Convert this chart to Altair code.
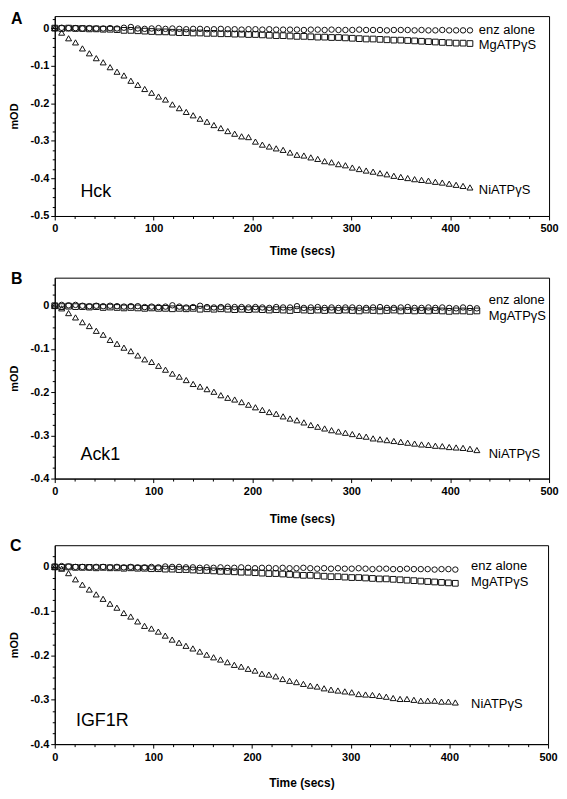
import altair as alt
import pandas as pd

TIMES = [0, 7, 14, 21, 28, 35, 42, 49, 56, 63,
         70, 77, 84, 91, 98, 105, 112, 119, 126, 133,
         140, 147, 154, 161, 168, 175, 182, 189, 196, 203,
         210, 217, 224, 231, 238, 245, 252, 259, 266, 273,
         280, 287, 294, 301, 308, 315, 322, 329, 336, 343,
         350, 357, 364, 371, 378, 385, 392, 399, 406, 413,
         420, 427]

SERIES = ["enz alone", "MgATPγS", "NiATPγS"]

# Panel A (Hck)
A_ENZ = [0.000, 0.001, 0.000, 0.000, -0.001, 0.000, -0.001, -0.001, 0.000, -0.001,
         0.001, 0.003, -0.001, -0.002, -0.001, 0.000, -0.002, -0.001, -0.002, -0.003,
         -0.002, -0.002, -0.003, -0.003, -0.002, -0.003, -0.003, -0.004, -0.003, -0.003,
         -0.004, -0.003, -0.004, -0.004, -0.004, -0.004, -0.005, -0.004, -0.004, -0.005,
         -0.004, -0.005, -0.005, -0.005, -0.004, -0.005, -0.005, -0.005, -0.006, -0.005,
         -0.005, -0.005, -0.006, -0.005, -0.006, -0.006, -0.005, -0.006, -0.006, -0.006,
         -0.006]
A_MG = [0.000, -0.001, 0.000, -0.001, -0.001, -0.002, -0.002, -0.003, -0.003, -0.004,
        -0.006, -0.006, -0.007, -0.008, -0.009, -0.010, -0.010, -0.011, -0.012, -0.012,
        -0.013, -0.013, -0.014, -0.014, -0.015, -0.015, -0.016, -0.016, -0.017, -0.017,
        -0.018, -0.019, -0.020, -0.020, -0.021, -0.022, -0.022, -0.023, -0.024, -0.024,
        -0.025, -0.025, -0.026, -0.027, -0.028, -0.029, -0.029, -0.030, -0.031, -0.032,
        -0.032, -0.033, -0.034, -0.035, -0.036, -0.037, -0.038, -0.039, -0.040, -0.040,
        -0.041]
A_NI = [0.000, -0.012, -0.027, -0.038, -0.054, -0.067, -0.080, -0.091, -0.104, -0.116,
        -0.126, -0.140, -0.151, -0.162, -0.172, -0.182, -0.190, -0.203, -0.213, -0.223,
        -0.232, -0.241, -0.249, -0.258, -0.266, -0.274, -0.281, -0.288, -0.290, -0.302,
        -0.310, -0.315, -0.320, -0.324, -0.331, -0.337, -0.339, -0.344, -0.348, -0.354,
        -0.357, -0.362, -0.365, -0.371, -0.375, -0.379, -0.382, -0.386, -0.389, -0.393,
        -0.396, -0.399, -0.402, -0.404, -0.406, -0.409, -0.411, -0.414, -0.417, -0.420,
        -0.424]

# Panel B (Ack1)
B_ENZ = [0.000, 0.002, 0.001, 0.002, 0.000, -0.001, 0.000, -0.001, 0.000, -0.001,
         -0.002, -0.001, -0.001, -0.003, -0.002, -0.003, -0.002, 0.001, -0.002, -0.004,
         -0.003, 0.000, -0.003, -0.004, -0.003, -0.002, -0.003, -0.003, -0.004, -0.003,
         -0.004, -0.005, -0.003, -0.004, -0.004, -0.001, -0.005, -0.004, -0.003, -0.005,
         -0.004, -0.005, -0.004, -0.004, -0.005, -0.005, -0.004, -0.003, -0.005, -0.005,
         -0.004, -0.003, -0.005, -0.005, -0.004, -0.005, -0.004, -0.005, -0.006, -0.004,
         -0.005, -0.006]
B_MG = [0.000, -0.002, -0.001, -0.002, -0.002, -0.003, -0.002, -0.004, -0.003, -0.004,
        -0.005, -0.004, -0.005, -0.006, -0.005, -0.006, -0.006, -0.007, -0.006, -0.007,
        -0.006, -0.008, -0.007, -0.008, -0.007, -0.008, -0.009, -0.008, -0.009, -0.008,
        -0.009, -0.010, -0.009, -0.010, -0.011, -0.009, -0.010, -0.011, -0.010, -0.011,
        -0.010, -0.011, -0.010, -0.011, -0.012, -0.010, -0.011, -0.012, -0.011, -0.010,
        -0.012, -0.011, -0.012, -0.011, -0.012, -0.011, -0.012, -0.013, -0.012, -0.012,
        -0.013, -0.012]
B_NI = [0.000, -0.006, -0.017, -0.027, -0.038, -0.047, -0.058, -0.067, -0.079, -0.088,
        -0.097, -0.105, -0.115, -0.124, -0.130, -0.139, -0.148, -0.157, -0.164, -0.172,
        -0.181, -0.187, -0.193, -0.199, -0.207, -0.213, -0.217, -0.223, -0.229, -0.235,
        -0.241, -0.246, -0.250, -0.256, -0.261, -0.265, -0.270, -0.276, -0.280, -0.284,
        -0.288, -0.291, -0.294, -0.297, -0.301, -0.303, -0.307, -0.309, -0.311, -0.313,
        -0.315, -0.317, -0.319, -0.321, -0.322, -0.324, -0.325, -0.327, -0.328, -0.329,
        -0.331, -0.334]

# Panel C (IGF1R)
C_ENZ = [0.001, 0.002, 0.001, 0.000, 0.000, -0.001, 0.000, 0.000, -0.001, 0.000,
         -0.001, 0.000, -0.001, -0.001, 0.000, -0.001, 0.001, 0.000, 0.000, -0.001,
         -0.001, -0.002, -0.001, -0.002, -0.001, -0.002, -0.002, -0.001, -0.002, -0.003,
         -0.002, -0.002, -0.003, -0.002, -0.003, -0.003, -0.002, -0.003, -0.004, -0.003,
         -0.004, -0.003, -0.004, -0.004, -0.003, -0.004, -0.005, -0.004, -0.004, -0.005,
         -0.005, -0.004, -0.005, -0.005, -0.005, -0.006, -0.005, -0.005, -0.006]
C_MG = [0.000, -0.001, 0.000, -0.001, -0.001, -0.001, -0.002, -0.001, -0.002, -0.002,
        -0.003, -0.002, -0.003, -0.003, -0.004, -0.004, -0.005, -0.005, -0.006, -0.006,
        -0.007, -0.008, -0.008, -0.009, -0.010, -0.010, -0.011, -0.012, -0.012, -0.013,
        -0.014, -0.015, -0.015, -0.016, -0.017, -0.018, -0.019, -0.019, -0.020, -0.021,
        -0.022, -0.022, -0.023, -0.024, -0.024, -0.025, -0.026, -0.027, -0.027, -0.028,
        -0.029, -0.030, -0.031, -0.032, -0.033, -0.034, -0.035, -0.036, -0.037]
C_NI = [0.000, -0.004, -0.014, -0.028, -0.040, -0.051, -0.062, -0.072, -0.083, -0.092,
        -0.104, -0.112, -0.123, -0.133, -0.139, -0.146, -0.155, -0.164, -0.171, -0.178,
        -0.184, -0.191, -0.198, -0.204, -0.209, -0.215, -0.221, -0.225, -0.230, -0.234,
        -0.241, -0.243, -0.247, -0.253, -0.257, -0.260, -0.264, -0.268, -0.270, -0.274,
        -0.277, -0.279, -0.281, -0.283, -0.287, -0.288, -0.289, -0.291, -0.293, -0.296,
        -0.298, -0.298, -0.300, -0.302, -0.302, -0.302, -0.304, -0.304, -0.306]

X_MAJOR = [0, 100, 200, 300, 400, 500]
X_MINOR = [20, 40, 60, 80, 120, 140, 160, 180, 220, 240, 260, 280,
           320, 340, 360, 380, 420, 440, 460, 480]

FONT = "Liberation Sans"
INK = "#111111"


def long_df(enz, mg, ni):
    rows = []
    for s, vals in zip(SERIES, (enz, mg, ni)):
        for t, v in zip(TIMES[:len(vals)], vals):
            rows.append({"time": t, "value": v, "series": s})
    return pd.DataFrame(rows)


def panel(df, ydom, ymajor, yminor, w, h, letter, name, lab_x, lab_y, name_xy,
          title_pad, letter_x, letter_y):
    xs = alt.Scale(domain=[0, 500], nice=False, zero=False)
    ys = alt.Scale(domain=ydom, nice=False, zero=False)
    pts = alt.Chart(df).mark_point(filled=False, strokeWidth=1, opacity=1).encode(
        x=alt.X("time:Q", scale=xs, axis=alt.Axis(
            values=X_MAJOR, format="d", tickSize=4, labelPadding=3,
            labelFont=FONT, labelFontSize=11, labelFontWeight="bold", labelColor="black",
            title="Time (secs)", titleFont=FONT, titleFontSize=12, titleFontWeight="bold",
            titleColor="black", titlePadding=title_pad, grid=False,
            domainColor="black", tickColor="black", labelFlush=False, labelOverlap=False)),
        y=alt.Y("value:Q", scale=ys, axis=alt.Axis(
            values=ymajor,
            labelExpr="datum.value == 0 ? '0' : '-' + format(abs(datum.value), '.1f')",
            tickSize=4, labelPadding=2,
            labelFont=FONT, labelFontSize=11, labelFontWeight="bold", labelColor="black",
            title="mOD", titleFont=FONT, titleFontSize=11, titleFontWeight="bold",
            titleColor="black", titlePadding=10, grid=False,
            domainColor="black", tickColor="black", labelOverlap=False)),
        shape=alt.Shape("series:N", scale=alt.Scale(
            domain=SERIES, range=["circle", "square", "triangle-up"]), legend=None),
        size=alt.Size("series:N", scale=alt.Scale(domain=SERIES, range=[30, 36, 50]),
                      legend=None),
        color=alt.value(INK),
    )
    minor = alt.Chart(df).mark_point(opacity=0).encode(
        x=alt.X("time:Q", scale=xs, axis=alt.Axis(
            values=X_MINOR, labels=False, domain=False, tickSize=2.5, title=None,
            orient="bottom", grid=False, tickColor="black")),
        y=alt.Y("value:Q", scale=ys, axis=alt.Axis(
            values=yminor, labels=False, domain=False, tickSize=2.5, title=None,
            orient="left", grid=False, tickColor="black")),
    )
    lab_df = pd.DataFrame({"t": [lab_x] * 3, "v": lab_y, "txt": SERIES})
    labs = alt.Chart(lab_df).mark_text(
        align="left", baseline="middle", font=FONT, fontSize=13, color="black"
    ).encode(
        x=alt.X("t:Q", scale=xs, axis=None),
        y=alt.Y("v:Q", scale=ys, axis=None),
        text="txt:N",
    )
    nm_df = pd.DataFrame({"t": [name_xy[0]], "v": [name_xy[1]], "txt": [name]})
    nm = alt.Chart(nm_df).mark_text(
        align="left", baseline="middle", font=FONT, fontSize=18, color="black"
    ).encode(
        x=alt.X("t:Q", scale=xs, axis=None),
        y=alt.Y("v:Q", scale=ys, axis=None),
        text="txt:N",
    )
    let = alt.Chart(pd.DataFrame({"txt": [letter]})).mark_text(
        align="left", baseline="top", font=FONT, fontSize=16, fontWeight="bold",
        color="black"
    ).encode(x=alt.value(letter_x), y=alt.value(letter_y), text="txt:N")
    return alt.layer(pts, minor, labs, nm, let).resolve_axis(
        x="independent", y="independent"
    ).properties(width=w, height=h)


pA = panel(long_df(A_ENZ, A_MG, A_NI), [-0.5, 0.032],
           [0, -0.1, -0.2, -0.3, -0.4, -0.5],
           [0.025, -0.025, -0.05, -0.075, -0.125, -0.15, -0.175, -0.225, -0.25, -0.275,
            -0.325, -0.35, -0.375, -0.425, -0.45, -0.475],
           497, 201, "A", "Hck", 429, [-0.004, -0.046, -0.431], (26, -0.4365),
           12, -44, -5)
pB = panel(long_df(B_ENZ, B_MG, B_NI), [-0.4, 0.065],
           [0, -0.1, -0.2, -0.3, -0.4],
           [0.05, 0.025, -0.025, -0.05, -0.075, -0.125, -0.15, -0.175, -0.225, -0.25,
            -0.275, -0.325, -0.35, -0.375],
           497, 202, "B", "Ack1", 439, [0.013, -0.023, -0.343], (26, -0.346),
           17, -44, -7)
pC = panel(long_df(C_ENZ, C_MG, C_NI), [-0.4, 0.049],
           [0, -0.1, -0.2, -0.3, -0.4],
           [0.025, -0.025, -0.05, -0.075, -0.125, -0.15, -0.175, -0.225, -0.25,
            -0.275, -0.325, -0.35, -0.375],
           496, 200, "C", "IGF1R", 422, [0.0016, -0.035, -0.31], (21.5, -0.3475),
           16, -45, -7)

chart = alt.vconcat(pA, pB, pC, spacing=12).properties(
    padding={"left": 0, "top": 0, "right": 0, "bottom": 0}, background="white"
).configure(padding={"left": 0, "top": 0, "right": 0, "bottom": 0}
).configure_view(stroke="black", strokeWidth=1)

chart.save("out.html", embed_options={"renderer": "svg", "actions": False})
